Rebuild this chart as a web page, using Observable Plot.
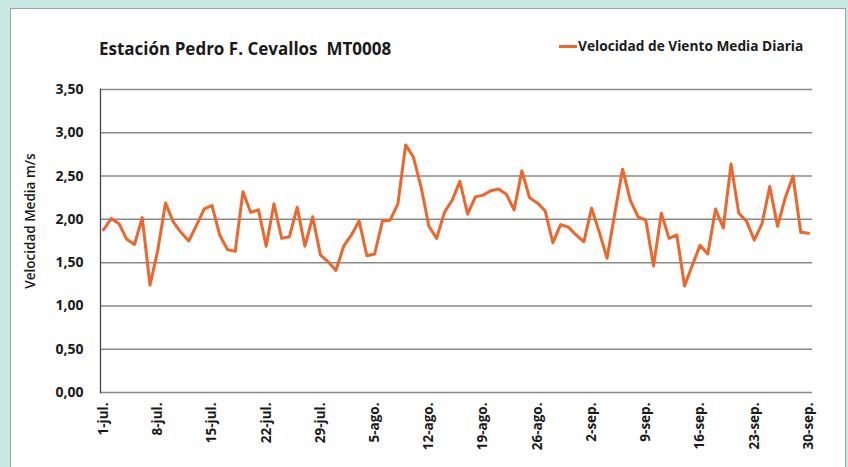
<!DOCTYPE html>
<html>
<head>
<meta charset="utf-8">
<script src="https://cdn.jsdelivr.net/npm/d3@7"></script>
<script src="https://cdn.jsdelivr.net/npm/@observablehq/plot@0.6"></script>
<style>
  html, body { margin: 0; padding: 0; }
  body { width: 848px; height: 467px; background: #cbe9e4; position: relative; overflow: hidden; font-family: "Open Sans", sans-serif; }
  #panel { position: absolute; left: 10px; top: 8px; width: 836px; height: 470px; background: #fff; border: 1px solid #9aa5a3; box-sizing: border-box; }
  #chart { position: absolute; left: 0; top: 0; }
  #title { position: absolute; left: 99px; top: 37px; font-weight: 700; font-size: 17px; color: #1a1a1a; white-space: pre; line-height: 24px; }
  #legend { position: absolute; left: 559px; top: 36px; font-weight: 700; font-size: 13.7px; color: #1a1a1a; white-space: pre; line-height: 20px; display: flex; align-items: center; }
  #legend .sw { display: inline-block; width: 18px; height: 3px; background: #f0652a; margin-right: 1px; }
</style>
</head>
<body>
<div id="panel"></div>
<div id="chart"></div>
<div id="title">Estación Pedro F. Cevallos  MT0008</div>
<div id="legend"><span class="sw"></span>Velocidad de Viento Media Diaria</div>
<script>
// Daily mean wind speed (m/s), 1-jul to 30-sep (92 days)
const velocidad = [
  1.88, 2.01, 1.95, 1.77, 1.71, 2.02, 1.24, 1.64, 2.19, 1.97,
  1.85, 1.75, 1.93, 2.12, 2.16, 1.82, 1.65, 1.63, 2.32, 2.08,
  2.11, 1.69, 2.18, 1.78, 1.80, 2.14, 1.69, 2.03, 1.59, 1.51,
  1.41, 1.69, 1.82, 1.98, 1.58, 1.60, 1.98, 1.99, 2.18, 2.86,
  2.72, 2.37, 1.92, 1.78, 2.08, 2.22, 2.44, 2.06, 2.26, 2.28,
  2.33, 2.35, 2.29, 2.11, 2.56, 2.25, 2.19, 2.10, 1.73, 1.94,
  1.91, 1.82, 1.74, 2.13, 1.85, 1.55, 2.07, 2.58, 2.22, 2.03,
  1.99, 1.46, 2.07, 1.78, 1.82, 1.23, 1.47, 1.70, 1.60, 2.12,
  1.90, 2.64, 2.07, 1.98, 1.76, 1.95, 2.38, 1.92, 2.25, 2.50,
  1.85, 1.84
];
const dias = velocidad.map((_, i) => i);
const xTickDays = [0, 7, 14, 21, 28, 35, 42, 49, 56, 63, 70, 77, 84, 91];
const xTickLabels = ["1-jul.", "8-jul.", "15-jul.", "22-jul.", "29-jul.", "5-ago.", "12-ago.", "19-ago.", "26-ago.", "2-sep.", "9-sep.", "16-sep.", "23-sep.", "30-sep."];
const yTicks = [0, 0.5, 1, 1.5, 2, 2.5, 3, 3.5];
const yLabel = "Velocidad Media m/s";

const data = dias.map((d, i) => ({dia: d, v: velocidad[i]}));
const labelByDay = new Map(xTickDays.map((d, i) => [d, xTickLabels[i]]));

const chart = Plot.plot({
  width: 848,
  height: 467,
  marginLeft: 100,
  marginRight: 36,
  marginTop: 89,
  marginBottom: 75,
  style: { background: "transparent", fontFamily: "Open Sans, sans-serif", color: "#1a1a1a", overflow: "visible" },
  x: { domain: [0, 91], insetLeft: 3, insetRight: 4 },
  y: { domain: [0, 3.5] },
  marks: [
    Plot.ruleY(yTicks, { stroke: "#8a8a8a", strokeWidth: 1.5 }),
    Plot.frame({ anchor: "left", stroke: "#444", strokeWidth: 1.3 }),
    Plot.axisY({
      ticks: yTicks, tickSize: 0, tickPadding: 17,
      tickFormat: d => d.toFixed(2).replace(".", ","),
      fontSize: 14, fontWeight: 700, label: null
    }),
    Plot.axisX({
      ticks: xTickDays, tickSize: 0, tickPadding: 10, tickRotate: -90,
      tickFormat: d => labelByDay.get(d),
      fontSize: 13.5, fontWeight: 700, label: null
    }),
    Plot.text([yLabel], {
      text: d => d, frameAnchor: "left", textAnchor: "middle", dx: -70, dy: -20, rotate: -90,
      fontSize: 13.5, fontWeight: 600, fill: "#1a1a1a"
    }),
    Plot.line(data, { x: "dia", y: "v", stroke: "#f0652a", strokeWidth: 3, strokeLinejoin: "round" })
  ]
});
document.getElementById("chart").appendChild(chart);
</script>
</body>
</html>
